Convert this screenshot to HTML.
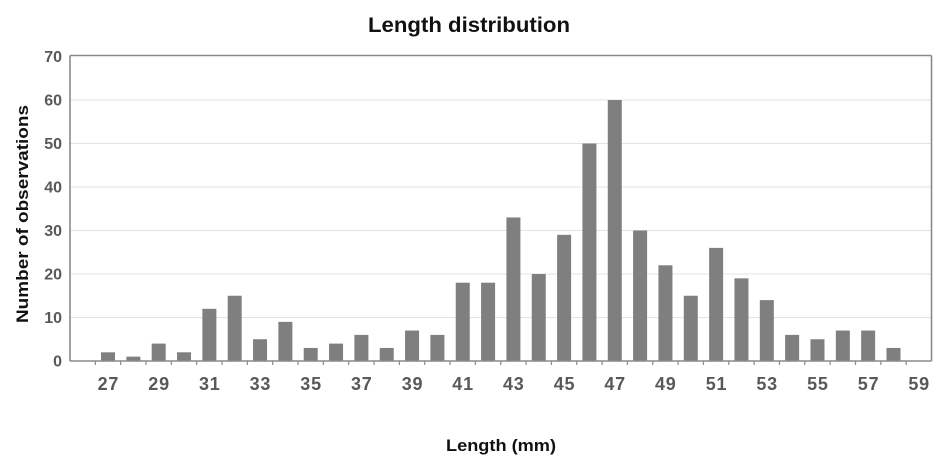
<!DOCTYPE html>
<html>
<head>
<meta charset="utf-8">
<style>
html,body{margin:0;padding:0;background:#fff;}
svg{display:block;}
text{font-family:"Liberation Sans",Arial,sans-serif;font-weight:bold;}
</style>
</head>
<body>
<svg width="940" height="467" viewBox="0 0 940 467" xmlns="http://www.w3.org/2000/svg">
<rect width="940" height="467" fill="#fff"/>
<text x="469" y="32" font-size="21" fill="#111" text-anchor="middle" textLength="202" lengthAdjust="spacingAndGlyphs">Length distribution</text>
<g stroke="#e3e3e3" stroke-width="1">
<line x1="70" x2="931" y1="317.5" y2="317.5"/>
<line x1="70" x2="931" y1="274" y2="274"/>
<line x1="70" x2="931" y1="230.5" y2="230.5"/>
<line x1="70" x2="931" y1="187" y2="187"/>
<line x1="70" x2="931" y1="143.5" y2="143.5"/>
<line x1="70" x2="931" y1="100" y2="100"/>
</g>
<g fill="#7f7f7f">
<rect x="101.01" y="352.3" width="14" height="8.7"/>
<rect x="126.35" y="356.65" width="14" height="4.35"/>
<rect x="151.68" y="343.6" width="14" height="17.4"/>
<rect x="177.02" y="352.3" width="14" height="8.7"/>
<rect x="202.36" y="308.8" width="14" height="52.2"/>
<rect x="227.70" y="295.75" width="14" height="65.25"/>
<rect x="253.04" y="339.25" width="14" height="21.75"/>
<rect x="278.37" y="321.85" width="14" height="39.15"/>
<rect x="303.71" y="347.95" width="14" height="13.05"/>
<rect x="329.05" y="343.6" width="14" height="17.4"/>
<rect x="354.39" y="334.9" width="14" height="26.1"/>
<rect x="379.73" y="347.95" width="14" height="13.05"/>
<rect x="405.07" y="330.55" width="14" height="30.45"/>
<rect x="430.40" y="334.9" width="14" height="26.1"/>
<rect x="455.74" y="282.7" width="14" height="78.3"/>
<rect x="481.08" y="282.7" width="14" height="78.3"/>
<rect x="506.42" y="217.45" width="14" height="143.55"/>
<rect x="531.76" y="274" width="14" height="87"/>
<rect x="557.10" y="234.85" width="14" height="126.15"/>
<rect x="582.43" y="143.5" width="14" height="217.5"/>
<rect x="607.77" y="100" width="14" height="261"/>
<rect x="633.11" y="230.5" width="14" height="130.5"/>
<rect x="658.45" y="265.3" width="14" height="95.7"/>
<rect x="683.79" y="295.75" width="14" height="65.25"/>
<rect x="709.13" y="247.9" width="14" height="113.1"/>
<rect x="734.46" y="278.35" width="14" height="82.65"/>
<rect x="759.80" y="300.1" width="14" height="60.9"/>
<rect x="785.14" y="334.9" width="14" height="26.1"/>
<rect x="810.48" y="339.25" width="14" height="21.75"/>
<rect x="835.82" y="330.55" width="14" height="30.45"/>
<rect x="861.15" y="330.55" width="14" height="30.45"/>
<rect x="886.49" y="347.95" width="14" height="13.05"/>
</g>
<g stroke="#8a8a8a" stroke-width="1.6" fill="none">
<line x1="70" y1="55.5" x2="931.5" y2="55.5"/>
<line x1="931.5" y1="55.5" x2="931.5" y2="361"/>
<line x1="70" y1="55.5" x2="70" y2="361"/>
<line x1="70" y1="361" x2="931.5" y2="361"/>
</g>
<path stroke="#8a8a8a" stroke-width="1.2" fill="none" d="M95.34 361V365M120.68 361V365M146.01 361V365M171.35 361V365M196.69 361V365M222.03 361V365M247.37 361V365M272.71 361V365M298.04 361V365M323.38 361V365M348.72 361V365M374.06 361V365M399.40 361V365M424.74 361V365M450.07 361V365M475.41 361V365M500.75 361V365M526.09 361V365M551.43 361V365M576.77 361V365M602.10 361V365M627.44 361V365M652.78 361V365M678.12 361V365M703.46 361V365M728.80 361V365M754.13 361V365M779.47 361V365M804.81 361V365M830.15 361V365M855.49 361V365M880.83 361V365M906.16 361V365"/>
<g font-size="16" fill="#595959" text-anchor="end">
<text x="62" y="366.5">0</text>
<text x="62" y="323">10</text>
<text x="62" y="279.5">20</text>
<text x="62" y="236">30</text>
<text x="62" y="192.5">40</text>
<text x="62" y="149">50</text>
<text x="62" y="105.5">60</text>
<text x="62" y="62">70</text>
</g>
<g font-size="18" fill="#595959" text-anchor="middle" letter-spacing="0.8">
<text x="108.4" y="390">27</text>
<text x="159.1" y="390">29</text>
<text x="209.8" y="390">31</text>
<text x="260.4" y="390">33</text>
<text x="311.1" y="390">35</text>
<text x="361.8" y="390">37</text>
<text x="412.5" y="390">39</text>
<text x="463.1" y="390">41</text>
<text x="513.8" y="390">43</text>
<text x="564.5" y="390">45</text>
<text x="615.2" y="390">47</text>
<text x="665.8" y="390">49</text>
<text x="716.5" y="390">51</text>
<text x="767.2" y="390">53</text>
<text x="817.9" y="390">55</text>
<text x="868.6" y="390">57</text>
<text x="919.2" y="390">59</text>
</g>
<text x="501" y="451" font-size="17" fill="#111" text-anchor="middle" textLength="110" lengthAdjust="spacingAndGlyphs">Length (mm)</text>
<text transform="translate(28,214) rotate(-90)" font-size="17" fill="#111" text-anchor="middle" textLength="218" lengthAdjust="spacingAndGlyphs">Number of observations</text>
</svg>
</body>
</html>
